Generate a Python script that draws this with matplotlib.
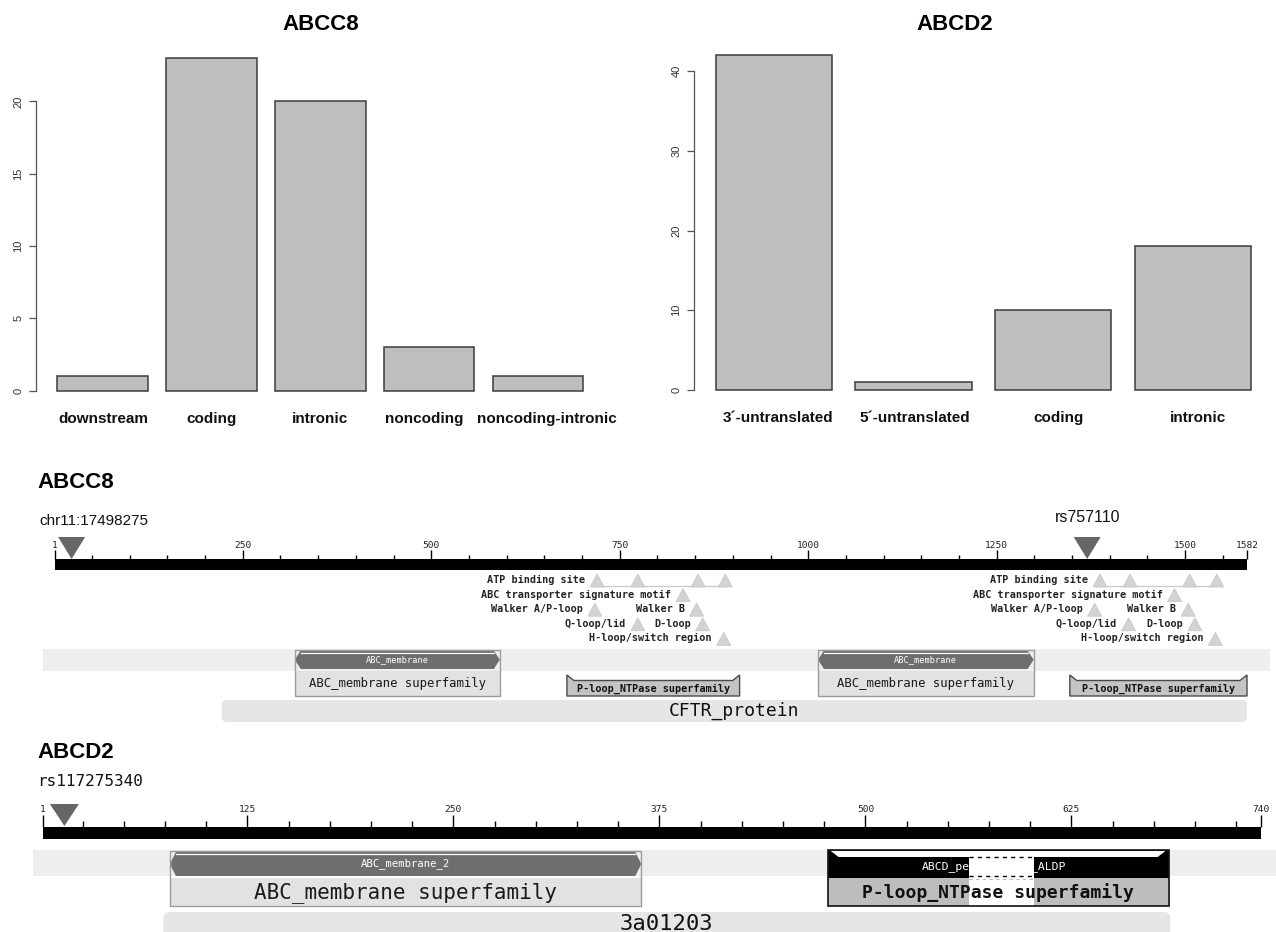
import matplotlib
matplotlib.use("Agg")
import matplotlib.pyplot as plt
from matplotlib.patches import Rectangle, Polygon, FancyBboxPatch
from matplotlib.transforms import offset_copy, blended_transform_factory

# ---------------- data ----------------
abcc8_categories = ["downstream", "coding", "intronic", "noncoding", "noncoding-intronic"]
abcc8_counts = [1, 23, 20, 3, 1]
abcc8_yticks = [0, 5, 10, 15, 20]

abcd2_categories = ["3\u00b4-untranslated", "5\u00b4-untranslated", "coding", "intronic"]
abcd2_counts = [42, 1, 10, 18]
abcd2_yticks = [0, 10, 20, 30, 40]

abcc8_length = 1582
abcc8_tick_labels = [1, 250, 500, 750, 1000, 1250, 1500, 1582]
abcc8_variant_labels = ["chr11:17498275", "rs757110"]
abcc8_variant_pos = [23, 1370]
abcc8_site_names = ["ATP binding site", "ABC transporter signature motif", "Walker A/P-loop",
                    "Walker B", "Q-loop/lid", "D-loop", "H-loop/switch region"]
abcc8_sites_nbd1 = [[720, 774, 854, 890], [834], [717], [852], [774], [860], [888]]
abcc8_sites_nbd2 = [[1387, 1427, 1506, 1542], [1486], [1380], [1504], [1425], [1513], [1540]]
abcc8_membrane = [(319, 591), (1013, 1299)]
abcc8_membrane_name = "ABC_membrane"
abcc8_membrane_super = "ABC_membrane superfamily"
abcc8_ploop = [(680, 909), (1347, 1582)]
ploop_name = "P-loop_NTPase superfamily"
abcc8_cftr = (222, 1582)
abcc8_cftr_name = "CFTR_protein"

abcd2_length = 740
abcd2_tick_labels = [1, 125, 250, 375, 500, 625, 740]
abcd2_variant_label = "rs117275340"
abcd2_variant_pos = 14
abcd2_membrane = (78, 364)
abcd2_membrane_name = "ABC_membrane_2"
abcd2_aldp = (477, 684)
abcd2_aldp_name = "ABCD_peroxisomal_ALDP"
abcd2_aldp_gap = (563, 602)
abcd2_3a = (74, 685)
abcd2_3a_name = "3a01203"

# ---------------- figure ----------------
W, H = 1276, 932
fig = plt.figure(figsize=(W / 100, H / 100), dpi=100)
fig.patch.set_facecolor("white")
SANS = ["Liberation Sans", "DejaVu Sans"]
MONO = ["DejaVu Sans Mono"]
PT = 0.72  # points per pixel at dpi 100


def frect(x0, y0, x1, y1):
    return [x0 / W, 1 - y1 / H, (x1 - x0) / W, (y1 - y0) / H]


def ftext(x, y, s, **kw):
    return fig.text(x / W, 1 - y / H, s, **kw)


def bar_panel(rect, cats, vals, xlim, ylim, yticks, label_dx):
    ax = fig.add_axes(rect)
    centers = [0.7 + 1.2 * i for i in range(len(cats))]
    ax.bar(centers, vals, width=1.0, color="#bebebe", edgecolor="#3c3c3c", linewidth=1.1)
    ax.set_xlim(xlim)
    ax.set_ylim(ylim)
    for sp in ["top", "right", "bottom"]:
        ax.spines[sp].set_visible(False)
    ax.spines["left"].set_bounds(yticks[0], yticks[-1])
    ax.spines["left"].set_color("#555555")
    ax.spines["left"].set_linewidth(0.9)
    ax.set_yticks(yticks)
    ax.set_yticklabels([str(t) for t in yticks], fontsize=8, color="#333333", family=SANS)
    ax.tick_params(axis="y", length=4.7, width=0.9, color="#555555", pad=4.5, labelrotation=90)
    for lab in ax.get_yticklabels():
        lab.set_va("center")
    ax.set_xticks([])
    base = blended_transform_factory(ax.transData, ax.transAxes)
    for c, lab, dx in zip(centers, cats, label_dx):
        tr = offset_copy(base, fig=fig, x=dx * PT, y=-15 * PT, units="points")
        ax.text(c, 0, lab, transform=tr, ha="center", va="center", fontsize=11,
                fontweight="bold", family=SANS, color="#111111")
    ax.patch.set_visible(False)
    return ax


bar_panel(frect(36.1, 44.6, 604.3, 404.0), abcc8_categories, abcc8_counts,
          (-0.032, 6.232), (-0.92, 23.92), abcc8_yticks, [1, 0, 0, -5, 9])
bar_panel(frect(694.1, 41.65, 1272.3, 403.4), abcd2_categories, abcd2_counts,
          (0.016, 4.984), (-1.68, 43.68), abcd2_yticks, [4, 1, 5, 5])
ftext(321, 24, "ABCC8", ha="center", va="center", fontsize=16, fontweight="bold", family=SANS)
ftext(955, 24, "ABCD2", ha="center", va="center", fontsize=16, fontweight="bold", family=SANS)

# ---------------- domain panels ----------------
def domain_axes(y0, y1, px_start, px_end, length):
    s = (px_end - px_start) / (length - 1)
    ax = fig.add_axes(frect(0, y0, W, y1))
    ax.set_xlim(1 + (0 - px_start) / s, 1 + (W - px_start) / s)
    ax.set_ylim(y1, y0)
    ax.axis("off")
    return ax, s


def ruler(ax, s, length, labels, step, y_top, y_bot, minor_h, major_h, label_y):
    ax.add_patch(Rectangle((1, y_top), length - 1, y_bot - y_top, facecolor="black", edgecolor="none"))
    major = set(labels)
    minor = [p for p in range(step, length, step) if p not in major]
    ax.vlines(minor, y_top - minor_h, y_top, color="black", lw=1.0)
    ax.vlines(sorted(major), y_top - major_h, y_top, color="black", lw=1.0)
    for p in labels:
        ax.text(p, label_y, str(p), ha="center", va="center", fontsize=6.8, family=MONO, color="#222222")


def variant(ax, s, pos, y_top, y_tip, half_px):
    hw = half_px / s
    ax.add_patch(Polygon([(pos - hw, y_top), (pos + hw, y_top), (pos, y_tip)], closed=True,
                         facecolor="#666666", edgecolor="none"))


def specific_hit(ax, s, x0, x1, y0, ymid, y1, name, super_name, name_fs, super_fs):
    a = 6 / s
    yb = ymid - 2
    ax.add_patch(Rectangle((x0, ymid), x1 - x0, y1 - ymid, facecolor="#e2e2e2", edgecolor="none"))
    ax.add_patch(Polygon([(x0, (y0 + yb) / 2), (x0 + a, y0), (x1 - a, y0), (x1, (y0 + yb) / 2),
                          (x1 - a, yb), (x0 + a, yb)], closed=True, facecolor="#6e6e6e", edgecolor="none"))
    ax.plot([x0 + a, x1 - a], [y0 + 2, y0 + 2], color="white", lw=0.9)
    ax.add_patch(Rectangle((x0, y0 - 1), x1 - x0, y1 - y0 + 1, facecolor="none", edgecolor="#9c9c9c", lw=1.0))
    ax.text((x0 + x1) / 2, (y0 + yb) / 2, name, ha="center", va="center", fontsize=name_fs,
            family=MONO, color="white")
    ax.text((x0 + x1) / 2, (ymid + y1) / 2 + 0.5, super_name, ha="center", va="center", fontsize=super_fs,
            family=MONO, color="#1a1a1a")


# ----- ABCC8 -----
ax1, s1 = domain_axes(462, 735, 55, 1247, abcc8_length)
ftext(37, 482, "ABCC8", ha="left", va="center", fontsize=16, fontweight="bold", family=SANS)

ax1.add_patch(Rectangle((1 + (43 - 55) / s1, 649), (1270 - 43) / s1, 22, facecolor="#efefef", edgecolor="none"))

ruler(ax1, s1, abcc8_length, abcc8_tick_labels, 50, 559, 570, 4.3, 9, 545)
for pos in abcc8_variant_pos:
    variant(ax1, s1, pos, 537, 559, 13.5)
ax1.text(1 + (39 - 55) / s1, 521, abcc8_variant_labels[0], ha="left", va="center", fontsize=11,
         family=SANS, color="#111111")
ax1.text(abcc8_variant_pos[1], 518, abcc8_variant_labels[1], ha="center", va="center", fontsize=11.5,
         family=SANS, color="#111111")

row_of_site = [0, 1, 2, 2, 3, 3, 4]
label_off = offset_copy(ax1.transData, fig=fig, x=-8.5, y=0, units="points")
for nbd in (abcc8_sites_nbd1, abcc8_sites_nbd2):
    for name, positions, row in zip(abcc8_site_names, nbd, row_of_site):
        yc = 580 + 14.6 * row
        base, apex = yc + 7, yc - 6
        hw = 7 / s1
        if len(positions) > 1:
            ax1.plot([positions[0], positions[-1]], [base - 1, base - 1], color="#cccccc", lw=1.0, zorder=1)
        for p in positions:
            ax1.add_patch(Polygon([(p - hw, base), (p, apex), (p + hw, base)], closed=True,
                                  facecolor="#d3d3d3", edgecolor="#c4c4c4", lw=0.5, zorder=2))
        ax1.text(positions[0], yc, name, ha="right", va="center", fontsize=7.3, family=MONO,
                 fontweight="bold", color="#222222", transform=label_off)

for (x0, x1) in abcc8_membrane:
    specific_hit(ax1, s1, x0, x1, 650.5, 671, 696, abcc8_membrane_name, abcc8_membrane_super, 6.2, 8.8)

for (x0, x1) in abcc8_ploop:
    n = 7 / s1
    ax1.add_patch(Polygon([(x0, 696), (x0, 675), (x0 + n, 680.5), (x1 - n, 680.5), (x1, 675), (x1, 696)],
                          closed=True, facecolor="#c4c4c4", edgecolor="#4a4a4a", lw=1.0))
    ax1.text((x0 + x1) / 2, 689, ploop_name, ha="center", va="center", fontsize=7.3, family=MONO,
             fontweight="bold", color="#111111")

cx0, cx1 = abcc8_cftr
ax1.add_patch(FancyBboxPatch((cx0, 700), cx1 - cx0, 22, boxstyle="round,pad=0,rounding_size=7",
                             mutation_aspect=s1, facecolor="#e6e6e6", edgecolor="none"))
ax1.text((cx0 + cx1) / 2, 711, abcc8_cftr_name, ha="center", va="center", fontsize=13, family=MONO,
         color="#111111")

# ----- ABCD2 -----
ax2, s2 = domain_axes(735, 932, 43, 1261, abcd2_length)
ftext(37, 752, "ABCD2", ha="left", va="center", fontsize=16, fontweight="bold", family=SANS)
ax2.add_patch(Rectangle((1 + (33 - 43) / s2, 850), (1276 - 33) / s2, 26, facecolor="#eeeeee", edgecolor="none"))
ruler(ax2, s2, abcd2_length, abcd2_tick_labels, 25, 827, 839, 6.5, 12, 809)
variant(ax2, s2, abcd2_variant_pos, 804, 826, 14.5)
ax2.text(1 + (37 - 43) / s2, 781, abcd2_variant_label, ha="left", va="center", fontsize=11.5,
         family=MONO, color="#111111")

m0, m1 = abcd2_membrane
specific_hit(ax2, s2, m0, m1, 852, 878, 906, abcd2_membrane_name, abcc8_membrane_super, 7.6, 15)

a0, a1 = abcd2_aldp
g0, g1 = abcd2_aldp_gap
ax2.add_patch(Rectangle((a0, 850), a1 - a0, 28, facecolor="black", edgecolor="none"))
d1, d2 = 3 / s2, 11 / s2
ax2.add_patch(Polygon([(a0 + d1, 850.8), (a1 - d1, 850.8), (a1 - d2, 857), (a0 + d2, 857)], closed=True,
                      facecolor="white", edgecolor="none"))
ax2.add_patch(Rectangle((a0, 878), a1 - a0, 28, facecolor="#bdbdbd", edgecolor="none"))
ax2.add_patch(Rectangle((g0, 857), g1 - g0, 49, facecolor="white", edgecolor="none"))
ax2.text((a0 + a1) / 2 - 4 / s2, 867, abcd2_aldp_name, ha="center", va="center", fontsize=8.2, family=MONO,
         color="white")
ax2.plot([g0, g1], [857, 857], color="black", lw=1.0, ls=(0, (3, 3)))
ax2.plot([g0, g1], [875.5, 875.5], color="black", lw=1.0, ls=(0, (3, 3)))
ax2.plot([g0, g1], [878.5, 878.5], color="#bbbbbb", lw=0.8, ls=(0, (3, 3)))
ax2.add_patch(Rectangle((a0, 850), a1 - a0, 56, facecolor="none", edgecolor="#111111", lw=1.2))
ax2.text((a0 + a1) / 2, 893, ploop_name, ha="center", va="center", fontsize=13, family=MONO,
         fontweight="bold", color="#111111")

t0, t1 = abcd2_3a
ax2.add_patch(FancyBboxPatch((t0, 912), t1 - t0, 40, boxstyle="round,pad=0,rounding_size=4",
                             mutation_aspect=s2, facecolor="#e6e6e6", edgecolor="none", clip_on=True))
ax2.text((t0 + t1) / 2, 924, abcd2_3a_name, ha="center", va="center", fontsize=16, family=MONO,
         color="#111111")

fig.savefig("out.png", dpi=100, facecolor="white")
